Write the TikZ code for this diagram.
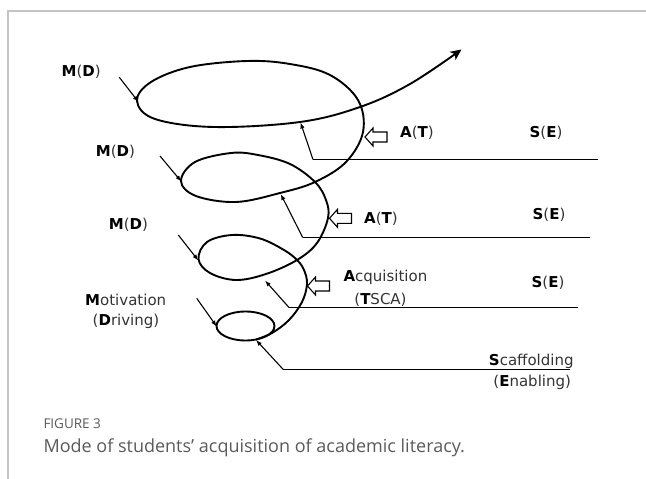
\documentclass[tikz,border=0pt]{standalone}
\usepackage{fontspec}
\setmainfont{DejaVu Sans}
\newfontfamily\capfont{Open Sans}
\usetikzlibrary{arrows.meta}
\definecolor{framegray}{HTML}{C4C4C4}
\definecolor{labgray}{HTML}{333333}
\definecolor{capgray}{HTML}{5A5A5A}
\tikzset{
  spiral/.style={line width=1.9pt, line join=round},
  hline/.style={line width=1.2pt},
  smallarrow/.style={line width=1.1pt, -{Latex[length=6pt,width=4.5pt]}},
  hollowarrow/.style={line width=1.1pt, fill=white, line join=miter},
  lbl/.style={font=\fontsize{15}{18}\selectfont, text=labgray, inner sep=0pt},
}
\begin{document}
\begin{tikzpicture}[x=1pt,y=-1pt]
\useasboundingbox (0,0) rectangle (646,479);
% frame
\draw[framegray, line width=1.6pt] (8,479) -- (8,11) -- (646,11);

% spiral
\draw[spiral] (245.5,326) ellipse [x radius=29, y radius=14.5];
\draw[spiral, -{Stealth[length=11pt,width=10pt,inset=3pt]}] plot[smooth, tension=0.6] coordinates {
 (256,339.5) (272,333) (289,320) (302,302) (307,284) (304,270) (297,260) (284,250)
 (260,238.5) (232,235) (207,242) (198.5,259) (210,273) (236,280) (266,274) (297,260)
 (317,243) (328,218) (326,200) (315,182) (290,164) (258,155) (231,153) (195,162)
 (181,181) (196,196) (236,202) (280,193) (315,182) (346,162) (363,132) (358,100)
 (330,75) (290,64) (247,61) (190,67) (151,82) (137,101) (155,119) (214,127)
 (300,122) (360,107) (410,84) (461.5,49.5)};

% named coordinates
\coordinate (l1a) at (313,159.5);   \coordinate (l1b) at (598.3,159.5);
\coordinate (l2a) at (302.7,237.5); \coordinate (l2b) at (589.5,237.5);
\coordinate (l3a) at (289,307.5);   \coordinate (l3b) at (577.5,307.5);
\coordinate (l4a) at (283.3,369.5); \coordinate (l4b) at (570,369.5);
\coordinate (t1) at (300.5,122.5);
\coordinate (t2) at (280.7,194);
\coordinate (t3) at (265,280.5);
\coordinate (t4) at (256,340);
\coordinate (m1a) at (119.3,77.3);  \coordinate (m1b) at (138.5,102);
\coordinate (m2a) at (160,156);     \coordinate (m2b) at (181.3,181.5);
\coordinate (m3a) at (178.3,235);   \coordinate (m3b) at (198.3,260.5);
\coordinate (m4a) at (196.7,298.3); \coordinate (m4b) at (216.7,326.5);
\coordinate (h1) at (365,137);
\coordinate (h2) at (329.5,218.3);
\coordinate (h3) at (307.5,286);

% horizontal lines and small arrows
\draw[hline] (l1a) -- (l1b);
\draw[hline] (l2a) -- (l2b);
\draw[hline] (l3a) -- (l3b);
\draw[hline] (l4a) -- (l4b);
\draw[smallarrow] (l1a) -- (t1);
\draw[smallarrow] (l2a) -- (t2);
\draw[smallarrow] (l3a) -- (t3);
\draw[smallarrow] (l4a) -- (t4);
\draw[smallarrow] (m1a) -- (m1b);
\draw[smallarrow] (m2a) -- (m2b);
\draw[smallarrow] (m3a) -- (m3b);
\draw[smallarrow] (m4a) -- (m4b);

% hollow arrows
\foreach \h in {h1,h2,h3}{
  \draw[hollowarrow] (\h) -- ++(8,-9) -- ++(0,4) -- ++(14,0) -- ++(0,10) -- ++(-14,0) -- ++(0,4) -- cycle;
}

% labels
\node[lbl] (md1) at (81.2,71.5) {\textcolor{black}{\textbf{M}}(\textcolor{black}{\textbf{D}})};
\node[lbl] (md2) at (115.5,151.7) {\textcolor{black}{\textbf{M}}(\textcolor{black}{\textbf{D}})};
\node[lbl] (md3) at (128.5,225) {\textcolor{black}{\textbf{M}}(\textcolor{black}{\textbf{D}})};
\node[lbl, anchor=base] (mot) at (125.7,305) {\textcolor{black}{\textbf{M}}otivation};
\node[lbl, anchor=base] (drv) at (126,325) {(\textcolor{black}{\textbf{D}}riving)};
\node[lbl] (at1) at (417,132.5) {\textcolor{black}{\textbf{A}}(\textcolor{black}{\textbf{T}})};
\node[lbl] (at2) at (381,218.7) {\textcolor{black}{\textbf{A}}(\textcolor{black}{\textbf{T}})};
\node[lbl, anchor=base] (acq) at (385.4,281.7) {\textcolor{black}{\textbf{A}}cquisition};
\node[lbl, anchor=base] (tsca) at (380.5,304) {(\textcolor{black}{\textbf{T}}SCA)};
\node[lbl] (se1) at (546,132.5) {\textcolor{black}{\textbf{S}}(\textcolor{black}{\textbf{E}})};
\node[lbl] (se2) at (549,215) {\textcolor{black}{\textbf{S}}(\textcolor{black}{\textbf{E}})};
\node[lbl] (se3) at (548,283) {\textcolor{black}{\textbf{S}}(\textcolor{black}{\textbf{E}})};
\node[lbl, anchor=base] (scf) at (531.3,365) {\textcolor{black}{\textbf{S}}caffolding};
\node[lbl, anchor=base] (enb) at (532.2,386) {(\textcolor{black}{\textbf{E}}nabling)};

% caption
\node[anchor=base west, inner sep=0pt, text=capgray, font=\capfont\fontsize{13.5}{15}\selectfont] (fig) at (43.3,428) {FIGURE 3};
\node[anchor=base west, inner sep=0pt, text=capgray, font=\capfont\fontsize{18}{21}\selectfont] (cap) at (43.3,452) {Mode of students’ acquisition of academic literacy.};
\end{tikzpicture}
\end{document}
